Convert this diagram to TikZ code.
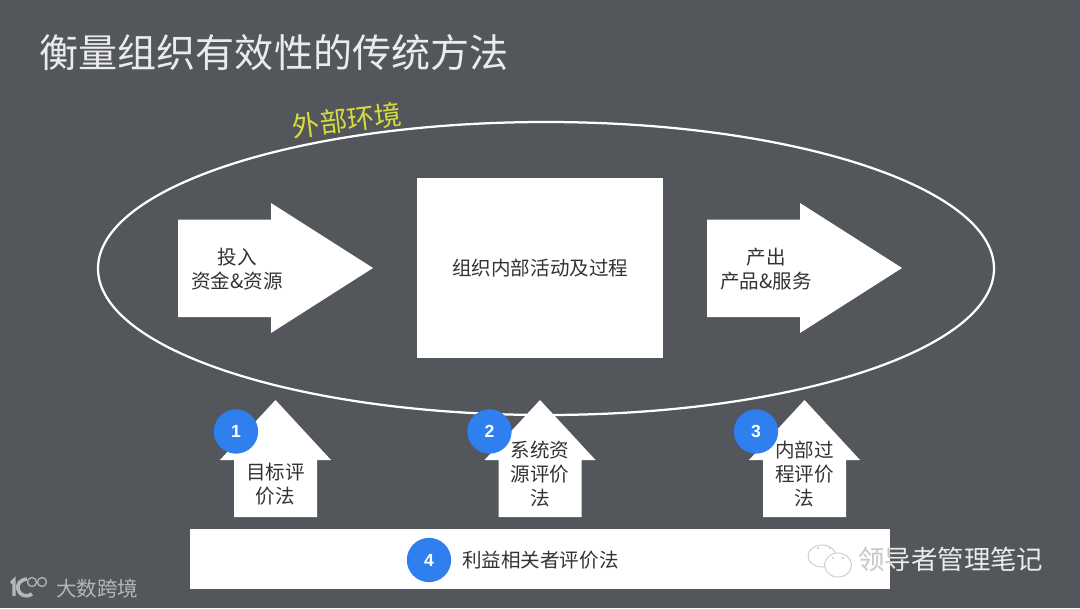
\documentclass[tikz,border=0pt]{standalone}
\usepackage{fontspec}
\setmainfont{Noto Sans CJK SC}
\newfontfamily\numfont{Liberation Sans}[Scale=1]
\definecolor{slidebg}{HTML}{53565B}
\definecolor{badgeblue}{HTML}{2F7FEF}
\definecolor{envyellow}{HTML}{D6DB3E}
\definecolor{markgray}{HTML}{B4B6B8}
\definecolor{faintgray}{HTML}{C8C9CA}
\tikzset{
  bodytext/.style={font=\fontsize{13.9}{17}\selectfont,text=black!80,align=center,inner sep=0pt},
  badge/.style={circle,fill=badgeblue,minimum size=31.5pt,inner sep=0pt,text=white,font=\numfont\bfseries\fontsize{12.5}{14}\selectfont},
  shapefill/.style={fill=white,draw=none},
}
\begin{document}
\begin{tikzpicture}[x=0.25mm,y=-0.25mm]
  \fill[slidebg] (0,0) rectangle (1080,608);
  \useasboundingbox (0,0) rectangle (1080,608);
  \node[text=white!92!black,inner sep=0pt,font=\fontsize{27.8}{32}\selectfont] (title) at (274,53) {衡量组织有效性的传统方法};
  % outer environment
  \draw[white,line width=1.6pt] (546,268.5) ellipse [x radius=448,y radius=146.5];
  \node[text=envyellow,inner sep=0pt,rotate=7,font=\fontsize{19.5}{23}\selectfont] (envlabel) at (347,120) {外部环境};
  % centre box and the two big arrows
  \node[shapefill,minimum width=175pt,minimum height=128pt,inner sep=0pt,anchor=north west,
    bodytext,text width=175pt] (process) at (417,178) {组织内部活动及过程};
  \foreach \x/\name/\top/\bottom in {178/input/投入/资金\&资源,707/output/产出/产品\&服务} {
    \fill[shapefill] (\x,219.5) -- (\x+93,219.5) -- (\x+93,203) -- (\x+195,268) -- (\x+93,333)
      -- (\x+93,317) -- (\x,317) -- cycle;
    \node[bodytext] (\name top) at (\x+59,257) {\top};
    \node[bodytext] (\name bottom) at (\x+59,281) {\bottom};
  }
  % evaluation arrows
  \foreach \x/\n/\y/\txt in {275.5/1/484.5/目标评\\价法,540/2/474/系统资\\源评价\\法,804.5/3/474/内部过\\程评价\\法} {
    \fill[shapefill] (\x-41.5,517) -- (\x-41.5,460) -- (\x-55.5,460) -- (\x,400) -- (\x+55.5,460)
      -- (\x+41.5,460) -- (\x+41.5,517) -- cycle;
    \node[bodytext] (method\n) at (\x,\y) {\txt};
  }
  \node[badge] (badge1) at (236,431.5) {1};
  \node[badge] (badge2) at (489.5,431.5) {2};
  \node[badge] (badge3) at (756,431.5) {3};
  % stakeholder bar
  \fill[shapefill] (190,529) rectangle (889.5,589);
  \node[badge] (badge4) at (429,560) {4};
  \node[bodytext,anchor=west] (stakeholder) at (462,560) {利益相关者评价法};
  % watermarks
  \node[text=white!92!black,inner sep=0pt,anchor=west,font=\fontsize{18.8}{22}\selectfont] (notes) at (858,559) {领导者管理笔记};
  \begin{scope}
    \clip (190,529) rectangle (889.5,589);
    \node[text=faintgray,inner sep=0pt,anchor=west,font=\fontsize{18.8}{22}\selectfont] (notesfaint) at (858,559) {领导者管理笔记};
  \end{scope}
  \draw[faintgray,line width=0.6pt] (822,556) ellipse [x radius=14,y radius=11];
  \draw[faintgray,line width=0.6pt,fill=white] (838,565) ellipse [x radius=13.5,y radius=12];
  \foreach \x/\y in {818/548,830/548,833/558,843/558} {
    \fill[faintgray] (\x,\y) circle (1.2);
  }
  \draw[markgray,line width=2.2pt] (11,583) -- (14,580) -- (14,596);
  \draw[markgray,line width=2.6pt] (27,579) .. controls (20,580) and (17,584) .. (18,589)
    .. controls (19,595) and (26,598) .. (32,594);
  \draw[markgray,line width=0.9pt] (32,582) circle (4.5) (42,582) circle (4.5);
  \node[text=markgray,inner sep=0pt,anchor=west,font=\fontsize{14.6}{18}\selectfont] (brand) at (56,589) {大数跨境};
\end{tikzpicture}
\end{document}
